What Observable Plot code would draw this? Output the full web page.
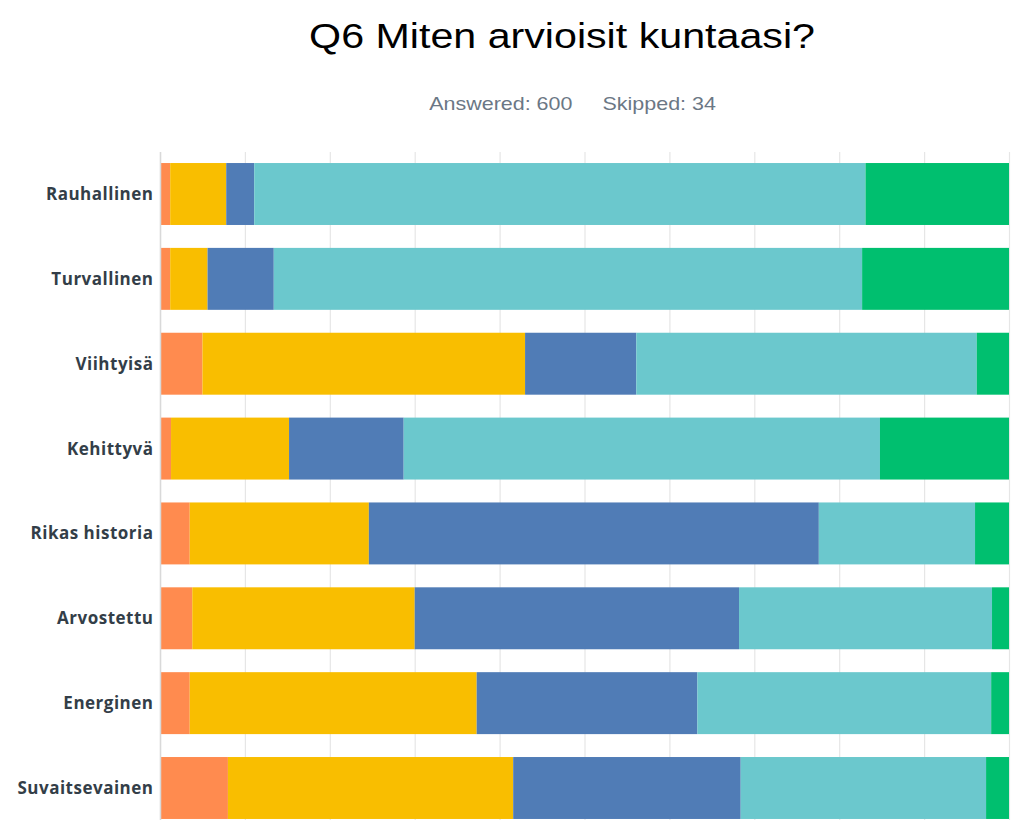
<!DOCTYPE html>
<html>
<head>
<meta charset="utf-8">
<script src="https://cdn.jsdelivr.net/npm/d3@7"></script>
<script src="https://cdn.jsdelivr.net/npm/@observablehq/plot@0.6"></script>
<style>
  html, body { margin: 0; padding: 0; background: #fff; }
  #wrap { width: 1017px; }
  #title { padding: 15px 0 0 108px; height: 42px; margin: 0; text-align: center;
    font-family: "Liberation Sans", Arial, sans-serif; font-size: 35.5px; line-height: 42px; color: #000; }
  #title span, #sub span.t { display: inline-block; transform: scaleX(1.16); transform-origin: 50% 50%; white-space: nowrap; }
  #sub { margin-top: 36px; padding: 0 0 0 128px; height: 22px; text-align: center;
    font-family: "Liberation Sans", Arial, sans-serif; font-size: 18.5px; line-height: 22px; color: #6b7785; }
  #sub span.g { display: inline-block; width: 26px; }
  #chart { margin-top: 15px; display: block; }
</style>
</head>
<body>
<div id="wrap">
  <div id="title"><span>Q6 Miten arvioisit kuntaasi?</span></div>
  <div id="sub"><span class="t">Answered: 600<span class="g"></span>Skipped: 34</span></div>
  <div id="chart"></div>
</div>
<script>
const categories = ["Rauhallinen", "Turvallinen", "Viihtyisä", "Kehittyvä", "Rikas historia", "Arvostettu", "Energinen", "Suvaitsevainen"];
const answers = ["1", "2", "3", "4", "5"];
const colors = ["#ff8b4f", "#f9be00", "#507cb6", "#6bc8cd", "#00bf6f"];
// percent share of each answer per category (in answer order)
const s1 = [1.2, 1.2, 5.0, 1.3, 3.5, 3.8, 3.5, 8.0];
const s2 = [6.6, 4.4, 38.0, 13.9, 21.1, 26.2, 33.8, 33.6];
const s3 = [3.3, 7.8, 13.1, 13.5, 53.0, 38.2, 26.0, 26.8];
const s4 = [72.0, 69.3, 40.1, 56.1, 18.4, 29.8, 34.6, 28.9];
const s5 = [16.9, 17.3, 3.8, 15.2, 4.0, 2.0, 2.1, 2.7];
const xTicks = [0, 10, 20, 30, 40, 50, 60, 70, 80, 90, 100];

const series = [s1, s2, s3, s4, s5];
const data = [];
categories.forEach((c, i) => {
  series.forEach((s, j) => data.push({category: c, answer: answers[j], value: s[i]}));
});

const plot = Plot.plot({
  width: 1017,
  height: 700,
  marginLeft: 160,
  marginRight: 8,
  marginTop: 22,
  marginBottom: 0,
  style: {fontFamily: "'Open Sans', sans-serif", background: "#fff"},
  x: {domain: [0, 100], axis: null},
  y: {domain: categories, label: null, paddingInner: 0.27, paddingOuter: 0.13, round: false},
  color: {domain: answers, range: colors},
  marks: [
    Plot.gridX(xTicks, {stroke: "#e6e6e6", strokeOpacity: 1, strokeWidth: 1.2}),
    Plot.barX(data, Plot.stackX({x: "value", y: "category", fill: "answer", order: answers})),
    Plot.ruleX([0], {stroke: "#d9d9d9", strokeWidth: 1.5}),
    Plot.axisY({tickSize: 0, tickPadding: 7, fontSize: 17, fontWeight: 700, fill: "#333e48"})
  ]
});
plot.querySelectorAll("g[aria-label='y-axis tick label'] text").forEach(t => t.setAttribute("letter-spacing", "0.5"));
document.getElementById("chart").appendChild(plot);
</script>
</body>
</html>
